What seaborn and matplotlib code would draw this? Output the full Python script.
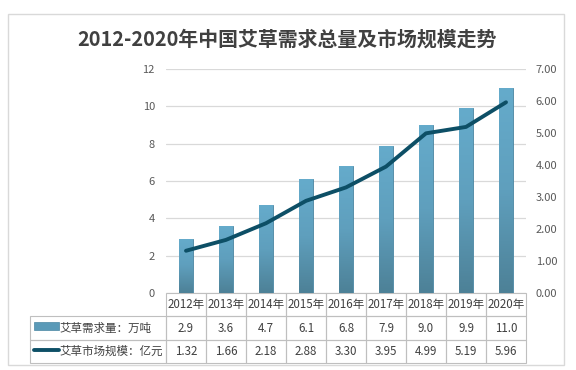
import numpy as np
import pandas as pd
import matplotlib
matplotlib.use('Agg')
import matplotlib.pyplot as plt
import seaborn as sns
from matplotlib.patches import Rectangle
from matplotlib.lines import Line2D
from matplotlib.table import Table

years = ['2012年', '2013年', '2014年', '2015年', '2016年', '2017年', '2018年', '2019年', '2020年']
demand = [2.9, 3.6, 4.7, 6.1, 6.8, 7.9, 9.0, 9.9, 11.0]
market = [1.32, 1.66, 2.18, 2.88, 3.30, 3.95, 4.99, 5.19, 5.96]
demand_label = '艾草需求量：万吨'
market_label = '艾草市场规模：亿元'
title = '2012-2020年中国艾草需求总量及市场规模走势'

sns.set_style('white')
plt.rcParams['font.family'] = ['Noto Sans CJK SC', 'DejaVu Sans']

W, H = 576, 370
fig = plt.figure(figsize=(W / 100, H / 100), dpi=100)

# outer frame
fig.patches.append(Rectangle((8 / W, 1 - 365 / H), 556 / W, 351 / H, transform=fig.transFigure,
                             fill=False, edgecolor='#d9d9d9', lw=1.0))
fig.text(287 / W, 1 - 39 / H, title, ha='center', va='center', fontsize=14.3,
         fontweight='bold', color='#404040')

x0, x1, ytop, ybot = 166, 526, 69, 293
ax = fig.add_axes([x0 / W, 1 - ybot / H, (x1 - x0) / W, (ybot - ytop) / H])

df = pd.DataFrame({'year': years, 'demand': demand, 'market': market})
sns.barplot(data=df, x='year', y='demand', ax=ax, width=0.33, color='#5a9ab8',
            edgecolor='#4a86a2', linewidth=0.6, saturation=1, zorder=2)

# vertical gradient on the bars
grad = np.linspace(0, 1, 100).reshape(-1, 1)
cmap = matplotlib.colors.LinearSegmentedColormap.from_list('g', ['#4d8197', '#5f9fbd', '#65abcb'])
for p in ax.patches:
    bx, by = p.get_x(), p.get_y()
    im = ax.imshow(grad, cmap=cmap, origin='lower', aspect='auto',
                   extent=[bx, bx + p.get_width(), by, by + p.get_height()], zorder=2.5)
    im.set_clip_path(p)

ax.set_xlim(-0.5, 8.5)
ax.set_ylim(0, 12)
ax.set_yticks(range(0, 13, 2))
ax.grid(axis='y', color='#d9d9d9', lw=0.9, zorder=0)
ax.set_axisbelow(True)
ax.set_xticks([])
ax.set_xlabel('')
ax.set_ylabel('')
ax.tick_params(axis='y', length=0, labelsize=8, labelcolor='#595959', pad=8)
for s in ax.spines.values():
    s.set_visible(False)

ax2 = ax.twinx()
sns.lineplot(data=df, x='year', y='market', ax=ax2, color='#0d4f66', lw=2.8,
             solid_capstyle='round', zorder=3)
ax2.set_ylim(0, 7)
ax2.set_yticks(range(0, 8))
ax2.set_yticklabels([f'{v:.2f}' for v in range(0, 8)])
ax2.set_xlim(-0.5, 8.5)
ax2.set_ylabel('')
ax2.set_xlabel('')
ax2.tick_params(axis='y', length=0, labelsize=8, labelcolor='#595959', pad=7)
for s in ax2.spines.values():
    s.set_visible(False)

# data table under the plot
tx0, tx1, ty0, ty1 = 30, 526, 293, 363
ph = ybot - ytop
pw = x1 - x0
tb = Table(ax, bbox=[(tx0 - x0) / pw, -(ty1 - ty0) / ph, (tx1 - tx0) / pw, (ty1 - ty0) / ph])
lw_col = (x0 - tx0) / 40.0
rows = [[''] + years,
        [demand_label] + [f'{v:.1f}' for v in demand],
        [market_label] + [f'{v:.2f}' for v in market]]
for r, row in enumerate(rows):
    for c, txt in enumerate(row):
        w = lw_col if c == 0 else 1.0
        cell = tb.add_cell(r, c, w, 1.0, text=txt, loc='center' if c else 'left',
                           edgecolor='#bfbfbf', facecolor='none')
        cell.set_linewidth(0.8)
        cell.get_text().set_fontsize(8.3)
        cell.get_text().set_color('#404040')
        if c == 0:
            cell.PAD = 29 / (x0 - tx0)
            if r == 0:
                cell.visible_edges = ''
tb.auto_set_font_size(False)
ax.add_table(tb)

# legend keys inside the table
ky1 = 1 - (314 + 338) / 2 / H
ky2 = 1 - (338 + 362) / 2 / H
key = Rectangle((34 / W, ky1 - 4 / H), 25 / W, 8 / H, transform=fig.transFigure,
                facecolor='#5a9ab8', edgecolor='#4a86a2', lw=0.5)
fig.patches.append(key)
fig.lines.append(Line2D([34 / W, 59 / W], [ky2, ky2], transform=fig.transFigure,
                        color='#0d4f66', lw=2.8))

fig.savefig('out.png', dpi=100)
